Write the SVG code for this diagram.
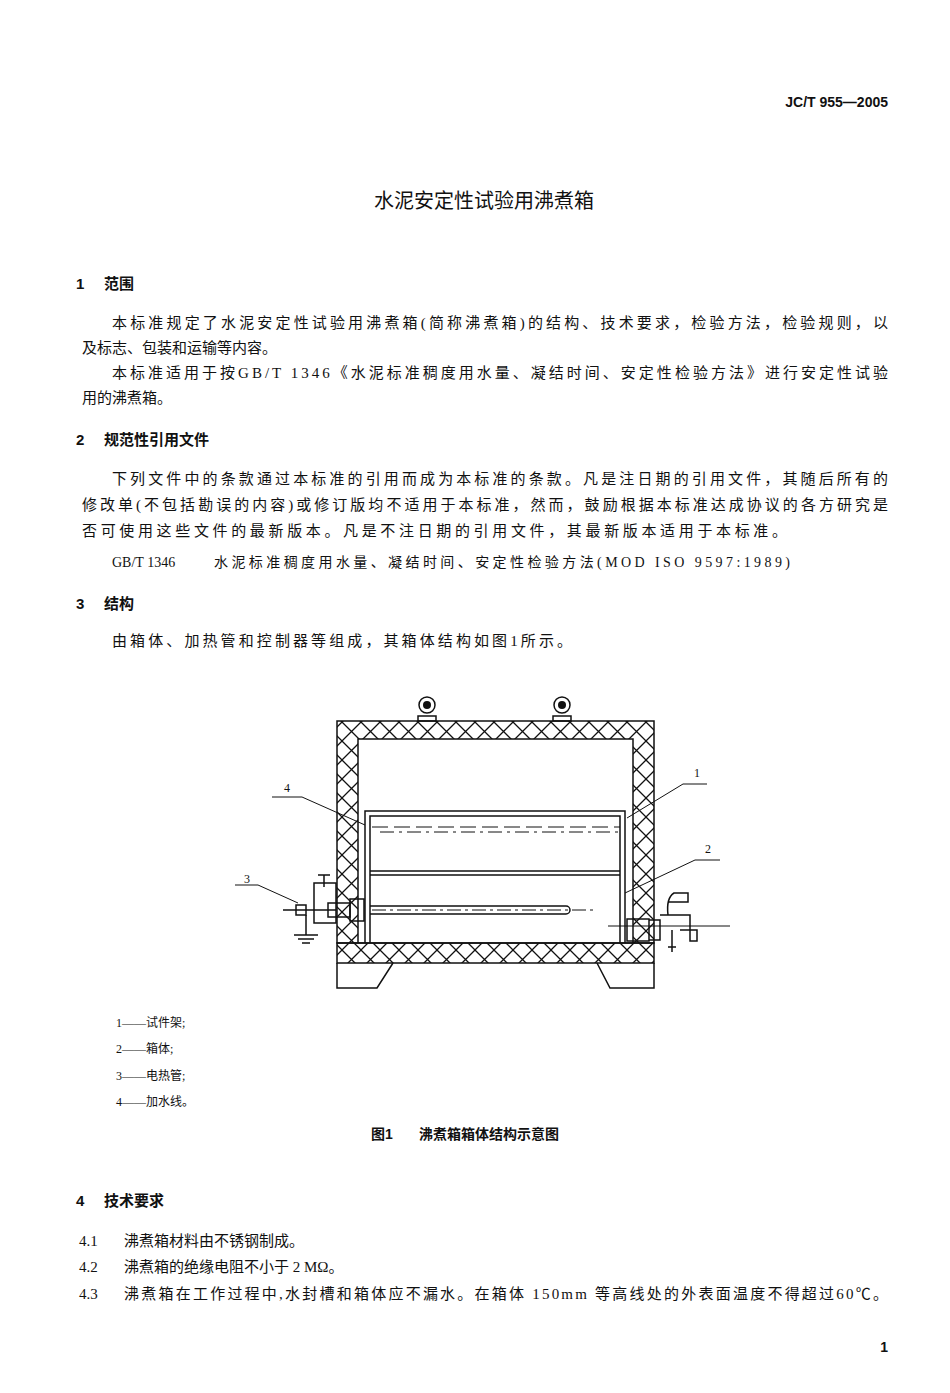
<svg xmlns="http://www.w3.org/2000/svg" width="950" height="1393" viewBox="0 0 950 1393">
<style>
text{font-family:"Liberation Serif","Noto Sans CJK SC",serif;fill:#111;font-size:15px}
.b{font-weight:bold;font-family:"Liberation Sans","Noto Sans CJK SC",sans-serif}
.l{font-size:12px}
.s14{font-size:14px}
.t{font-size:20px}
.ln{fill:none;stroke:#111;stroke-width:1.5}
.th{fill:none;stroke:#111;stroke-width:1}
</style>
<defs>
<pattern id="x" width="19" height="19" patternUnits="userSpaceOnUse">
<path d="M0 0L19 19M19 0L0 19" stroke="#111" stroke-width="1.3"/>
</pattern>
</defs>
<rect width="950" height="1393" fill="#fff"/>
<text class="b s14" x="888" y="107" text-anchor="end">JC/T 955—2005</text>
<text class="t" x="484" y="208" text-anchor="middle">水泥安定性试验用沸煮箱</text>
<text class="b" x="76" y="289">1<tspan x="104">范围</tspan></text>
<text x="112" y="328" textLength="776">本标准规定了水泥安定性试验用沸煮箱(简称沸煮箱)的结构、技术要求，检验方法，检验规则，以</text>
<text x="82" y="353">及标志、包装和运输等内容。</text>
<text x="112" y="378" textLength="776">本标准适用于按GB/T 1346《水泥标准稠度用水量、凝结时间、安定性检验方法》进行安定性试验</text>
<text x="82" y="403">用的沸煮箱。</text>
<text class="b" x="76" y="445">2<tspan x="104">规范性引用文件</tspan></text>
<text x="112" y="484" textLength="776">下列文件中的条款通过本标准的引用而成为本标准的条款。凡是注日期的引用文件，其随后所有的</text>
<text x="82" y="510" textLength="806">修改单(不包括勘误的内容)或修订版均不适用于本标准，然而，鼓励根据本标准达成协议的各方研究是</text>
<text x="82" y="536" textLength="705">否可使用这些文件的最新版本。凡是不注日期的引用文件，其最新版本适用于本标准。</text>
<text class="s14" x="112" y="567">GB/T 1346<tspan x="214" textLength="576">水泥标准稠度用水量、凝结时间、安定性检验方法(MOD ISO 9597:1989)</tspan></text>
<text class="b" x="76" y="609">3<tspan x="104">结构</tspan></text>
<text x="112" y="646" textLength="460">由箱体、加热管和控制器等组成，其箱体结构如图1所示。</text>

<g id="box">
<path d="M337 721H654V943H337Z M358 739H633V943H358Z" fill="url(#x)" fill-rule="evenodd" stroke="#111" stroke-width="1.5"/>
<rect x="337" y="943" width="317" height="20" fill="url(#x)" stroke="#111" stroke-width="1.5"/>
<path class="ln" d="M337 963V988H377L393 963 M597 963L610 988H654V963"/>
</g>
<g id="gauges">
<circle cx="427" cy="705" r="8" class="ln"/><circle cx="427" cy="705" r="4" fill="#111"/>
<rect x="418" y="716" width="18" height="5" class="ln"/>
<circle cx="562" cy="705" r="8" class="ln"/><circle cx="562" cy="705" r="4" fill="#111"/>
<rect x="553" y="716" width="18" height="5" class="ln"/>
</g>
<g id="rack">
<path class="ln" d="M365 943V811H625V943 M370 943V816H620V943"/>
<path class="th" d="M372 827H620" stroke-dasharray="16 6"/>
<path class="th" d="M380 832H620" stroke-dasharray="14 5 3 5"/>
<path class="ln" d="M370 871H620 M370 875H620"/>
</g>
<g id="heater">
<path class="ln" d="M370 906H566A4 4 0 0 1 566 914H370"/>
<path class="th" d="M372 910H593" stroke-dasharray="14 4 3 4"/>
<rect x="350" y="899" width="14" height="22" class="ln"/>
<rect x="328" y="903" width="22" height="14" class="ln"/>
<rect x="314" y="883" width="22" height="40" class="ln"/>
<rect x="296" y="905" width="10" height="10" class="ln"/>
<path class="ln" d="M283 910H336 M306 915V935 M294 935H318 M298 939H314 M302 943H310 M324 875V887 M318 875H330"/>
</g>
<g id="tap">
<rect x="627" y="919" width="22" height="22" class="ln"/>
<path class="ln" d="M649 920H660V940H649 M660 915H690V941H697V930H680 M668 902H688V893H674Q666 898 668 915 M672 930V952 M668 947H676"/>
<path class="th" d="M608 926H730"/>
</g>
<g id="connectors">
<path class="th" d="M272 797H302L365 825"/>
<path class="th" d="M707 784H683L627 818"/>
<path class="th" d="M720 860H695L625 893"/>
<path class="th" d="M235 885H258L298 903"/>
</g>
<text x="287" y="792" class="l" text-anchor="middle">4</text>
<text x="697" y="777" class="l" text-anchor="middle">1</text>
<text x="708" y="853" class="l" text-anchor="middle">2</text>
<text x="247" y="883" class="l" text-anchor="middle">3</text>

<text class="l" x="116" y="1027">1——试件架;</text>
<text class="l" x="116" y="1053">2——箱体;</text>
<text class="l" x="116" y="1080">3——电热管;</text>
<text class="l" x="116" y="1106">4——加水线。</text>
<text class="b s14" x="371" y="1139">图1<tspan x="419">沸煮箱箱体结构示意图</tspan></text>
<text class="b" x="76" y="1206">4<tspan x="104">技术要求</tspan></text>
<text x="79" y="1246">4.1<tspan x="124">沸煮箱材料由不锈钢制成。</tspan></text>
<text x="79" y="1272">4.2<tspan x="124">沸煮箱的绝缘电阻不小于 2 MΩ。</tspan></text>
<text x="79" y="1299">4.3<tspan x="124" textLength="764">沸煮箱在工作过程中,水封槽和箱体应不漏水。在箱体 150mm 等高线处的外表面温度不得超过60℃。</tspan></text>
<text class="b s14" x="888" y="1352" text-anchor="end">1</text>
</svg>
